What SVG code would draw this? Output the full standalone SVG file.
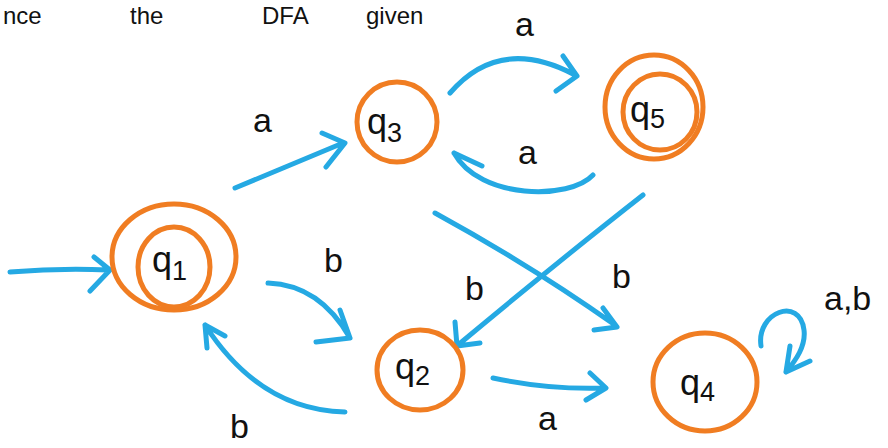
<svg xmlns="http://www.w3.org/2000/svg" width="888" height="448" viewBox="0 0 888 448">
<style>
.st{fill:none;stroke:#f07d22;stroke-width:5;stroke-linecap:round}
.ed{fill:none;stroke:#25a9e3;stroke-width:5;stroke-linecap:round;stroke-linejoin:round}
.lb{font-family:"Liberation Sans",Arial,sans-serif;font-size:34px;fill:#111}
.nl{font-family:"Liberation Sans",Arial,sans-serif;font-size:36px;fill:#111}
.sub{font-size:27px}
.tp{font-family:"Liberation Sans",Arial,sans-serif;font-size:24px;fill:#111}
</style>
<rect width="888" height="448" fill="#fff"/>
<g id="header">
<text class="tp" x="3" y="24">nce</text>
<text class="tp" x="130" y="24">the</text>
<text class="tp" x="262" y="24">DFA</text>
<text class="tp" x="366" y="24">given</text>
</g>
<g id="edges">
<path class="ed" d="M10,272 Q60,268 108,270 M94,257 L110,270 L90,291"/>
<path class="ed" d="M235,188 Q290,165 343,143 M322,133 L345,143 L326,167"/>
<path class="ed" d="M450,93 Q500,35 575,75 M563,56 L577,76 L556,91"/>
<path class="ed" d="M593,175 C570,200 480,200 454,153 M482,166 L454,153"/>
<path class="ed" d="M435,213 Q530,265 615,325 M603,308 L617,327 L594,330"/>
<path class="ed" d="M643,195 Q560,260 458,345 M455,322 L457,346 L480,343"/>
<path class="ed" d="M268,283 Q320,285 350,338 M340,310 L350,338 L316,342"/>
<path class="ed" d="M345,412 Q260,410 205,325 M225,336 L205,325 L207,348"/>
<path class="ed" d="M493,378 Q550,390 605,388 M590,373 L606,388 L586,400"/>
<path class="ed" d="M761,346 C756,312 800,296 804,330 C806,346 796,360 786,372 M790,346 L786,372 L810,361"/>
<text class="lb" x="253" y="132">a</text>
<text class="lb" x="515" y="36">a</text>
<text class="lb" x="518" y="164">a</text>
<text class="lb" x="612" y="288">b</text>
<text class="lb" x="465" y="300">b</text>
<text class="lb" x="324" y="272">b</text>
<text class="lb" x="230" y="438">b</text>
<text class="lb" x="538" y="430">a</text>
<text class="lb" x="824" y="310">a,b</text>
</g>
<g id="q1">
<ellipse class="st" cx="174" cy="257" rx="62" ry="53"/>
<ellipse class="st" cx="174" cy="267" rx="36" ry="40"/>
<text class="nl" x="152" y="272">q<tspan class="sub" dy="8">1</tspan></text>
</g>
<g id="q3">
<ellipse class="st" cx="397" cy="122" rx="40" ry="40"/>
<text class="nl" x="367" y="134">q<tspan class="sub" dy="8">3</tspan></text>
</g>
<g id="q5">
<ellipse class="st" cx="654" cy="107" rx="49" ry="52"/>
<ellipse class="st" cx="660" cy="112" rx="37" ry="38"/>
<text class="nl" x="630" y="122">q<tspan class="sub" dy="6">5</tspan></text>
</g>
<g id="q2">
<ellipse class="st" cx="420" cy="370" rx="43" ry="40"/>
<text class="nl" x="395" y="379">q<tspan class="sub" dy="6">2</tspan></text>
</g>
<g id="q4">
<ellipse class="st" cx="705" cy="382" rx="52" ry="49"/>
<text class="nl" x="680" y="395">q<tspan class="sub" dy="6">4</tspan></text>
</g>
</svg>
